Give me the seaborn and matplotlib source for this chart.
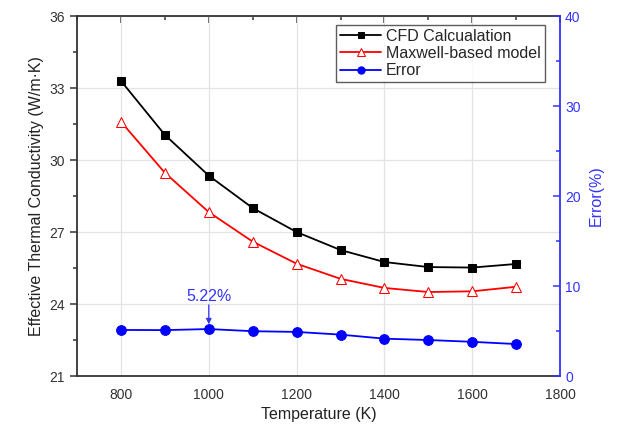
import numpy as np
import matplotlib
matplotlib.use("Agg")
import matplotlib.pyplot as plt
from matplotlib.ticker import MultipleLocator, NullFormatter
import seaborn as sns
import pandas as pd

sns.set_theme(style="white")
plt.rcParams['font.family'] = ['Liberation Sans', 'DejaVu Sans']

# Datos
temperatura = [800, 900, 1000, 1100, 1200, 1300, 1400, 1500, 1600, 1700]
cfd = [33.3, 31.05, 29.35, 28.0, 27.0, 26.25, 25.75, 25.54, 25.52, 25.67]
maxwell = [31.6, 29.47, 27.83, 26.6, 25.68, 25.05, 24.67, 24.5, 24.53, 24.72]
error = [5.12, 5.1, 5.22, 4.98, 4.9, 4.6, 4.15, 4.0, 3.8, 3.55]

df = pd.DataFrame({'T': temperatura, 'CFD': cfd, 'Maxwell': maxwell, 'Error': error})

fig = plt.figure(figsize=(6.28, 4.34), dpi=100)
ax = fig.add_axes([0.1226, 0.1336, 0.7694, 0.8294])
ax2 = ax.twinx()

sns.lineplot(data=df, x='T', y='CFD', ax=ax, color='black', marker='s', markersize=6,
             markeredgecolor='black', linewidth=1.3, label='CFD Calcualation', legend=False)
sns.lineplot(data=df, x='T', y='Maxwell', ax=ax, color='red', marker='^', markersize=7.5,
             markerfacecolor='white', markeredgecolor='red', linewidth=1.3,
             label='Maxwell-based model', legend=False)
sns.lineplot(data=df, x='T', y='Error', ax=ax2, color='blue', marker='o', markersize=7,
             markeredgecolor='blue', linewidth=1.3, label='Error', legend=False)

ax.set_xlim(700, 1800)
ax.set_ylim(21, 36)
ax2.set_ylim(0, 40)
ax.xaxis.set_major_locator(MultipleLocator(200))
ax.xaxis.set_minor_locator(MultipleLocator(100))
ax.yaxis.set_major_locator(MultipleLocator(3))
ax.yaxis.set_minor_locator(MultipleLocator(1.5))
ax2.yaxis.set_major_locator(MultipleLocator(10))
ax2.yaxis.set_minor_locator(MultipleLocator(5))

ax.grid(True, which='major', color='#e3e3e3', linewidth=0.9)
ax.set_axisbelow(True)

for s in ['left', 'bottom', 'top']:
    ax.spines[s].set_color('#333333')
    ax.spines[s].set_linewidth(1.3)
ax.spines['right'].set_visible(False)
for s in ['left', 'bottom', 'top']:
    ax2.spines[s].set_visible(False)
ax2.spines['right'].set_color('#3333ff')
ax2.spines['right'].set_linewidth(1.3)

ax.tick_params(axis='both', which='both', direction='out', color='#333333',
               labelsize=10, labelcolor='#333333', width=1.1)
ax.tick_params(which='major', length=5)
ax.tick_params(which='minor', length=3)
ax2.tick_params(axis='y', which='both', direction='in', color='#3333ff',
                labelcolor='#3333ff', labelsize=10, width=1.1)
ax2.tick_params(which='major', length=5)
ax2.tick_params(which='minor', length=3)

# ticks superiores hacia dentro
sec = ax.secondary_xaxis('top')
sec.xaxis.set_major_locator(MultipleLocator(200))
sec.xaxis.set_minor_locator(MultipleLocator(100))
sec.xaxis.set_major_formatter(NullFormatter())
sec.tick_params(which='both', direction='in', color='#333333', width=1.1)
sec.tick_params(which='major', length=5)
sec.tick_params(which='minor', length=3)
sec.spines['top'].set_visible(False)

ax.set_xlabel('Temperature (K)', fontsize=11.5, color='#222222')
ax.set_ylabel('Effective Thermal Conductivity (W/m·K)', fontsize=11.5, color='#222222')
ax2.set_ylabel('Error(%)', fontsize=11.5, color='#3333ff', labelpad=6)

# etiqueta del error maximo con flecha
ax2.text(1000, 8.8, '5.22%', color='#3333ff', fontsize=11.5, ha='center', va='center')
ax2.annotate('', xy=(1000, 5.75), xytext=(1000, 7.9),
             arrowprops=dict(arrowstyle='-|>', color='#3333ff', lw=0.9, mutation_scale=8,
                             shrinkA=0, shrinkB=0))

h1, l1 = ax.get_legend_handles_labels()
h2, l2 = ax2.get_legend_handles_labels()
leg = ax2.legend(h1 + h2, l1 + l2, loc='upper right', bbox_to_anchor=(0.975, 0.985),
                 fontsize=11.5, frameon=True, fancybox=False, borderpad=0.25,
                 handlelength=2.6, handletextpad=0.3, labelspacing=0.15, borderaxespad=0.2,
                 markerscale=0.75)
leg.get_frame().set_edgecolor('#333333')
leg.get_frame().set_linewidth(1.0)

fig.savefig('out.png', dpi=100)
